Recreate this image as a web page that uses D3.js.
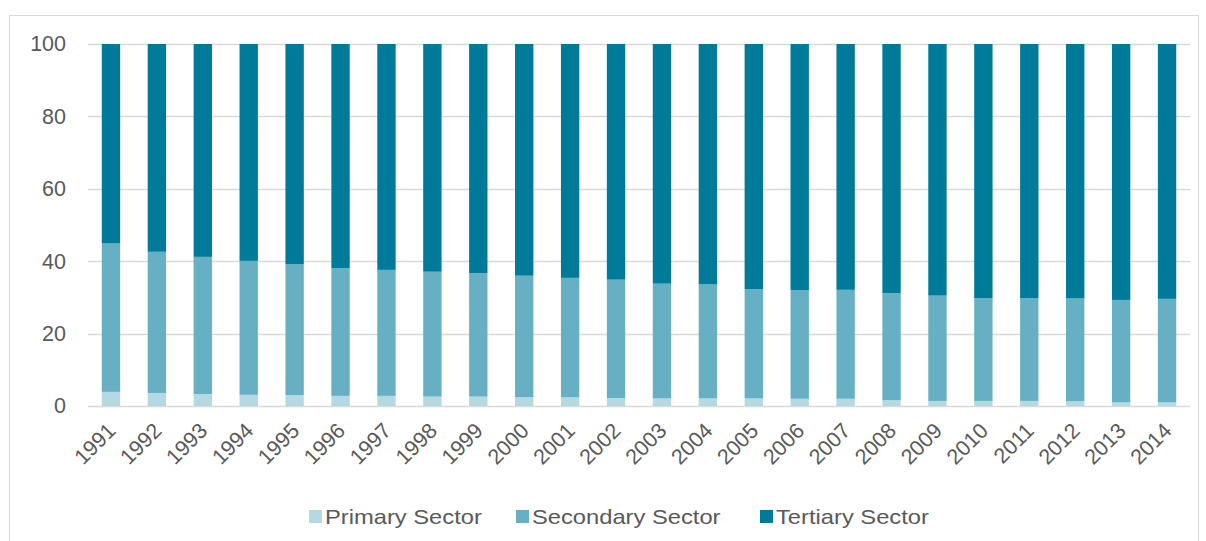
<!DOCTYPE html>
<html>
<head>
<meta charset="utf-8">
<script src="https://cdn.jsdelivr.net/npm/d3@7"></script>
<style>
  body { margin: 0; background: #fff; }
  svg { font-family: "Liberation Sans", Arial, sans-serif; }
</style>
</head>
<body>
<div id="chart"></div>
<script>
const years = d3.range(1991, 2015).map(String);
// share of primary sector (%)
const primary = [3.9, 3.6, 3.3, 3.1, 3.0, 2.8, 2.8, 2.6, 2.6, 2.4, 2.4, 2.2,
  2.1, 2.1, 2.1, 2.0, 2.0, 1.6, 1.4, 1.4, 1.4, 1.3, 1.0, 1.0];
// primary + secondary top edge (%)
const industryTop = [44.9, 42.6, 41.2, 40.1, 39.2, 38.1, 37.6, 37.1, 36.7, 36.0, 35.4, 34.9,
  33.8, 33.6, 32.3, 32.0, 32.1, 31.2, 30.5, 29.8, 29.8, 29.7, 29.3, 29.6];
const secondary = industryTop.map((t, i) => +(t - primary[i]).toFixed(1));
const tertiary = industryTop.map(t => +(100 - t).toFixed(1));
const sectors = ['Primary Sector', 'Secondary Sector', 'Tertiary Sector'];
const colors = ['#b4d9e3', '#67b0c3', '#007a99'];
const yTicks = [0, 20, 40, 60, 80, 100];

const width = 1206, height = 541;
const margin = {top: 44, right: 16, bottom: 135, left: 88};
const textColor = '#595959';

const svg = d3.select('#chart').append('svg')
  .attr('width', width)
  .attr('height', height);

// chart frame
svg.append('rect')
  .attr('x', 9.5).attr('y', 15.5)
  .attr('width', 1189).attr('height', 540)
  .attr('fill', 'none').attr('stroke', '#d9d9d9');

const x = d3.scaleBand()
  .domain(years)
  .range([margin.left, width - margin.right])
  .paddingInner(0.6).paddingOuter(0.3);

const y = d3.scaleLinear()
  .domain([0, 100])
  .range([height - margin.bottom, margin.top]);

// grid
svg.append('g')
  .selectAll('line')
  .data(yTicks)
  .join('line')
    .attr('x1', margin.left).attr('x2', width - margin.right)
    .attr('y1', d => Math.round(y(d)) + 0.5).attr('y2', d => Math.round(y(d)) + 0.5)
    .attr('stroke', '#d9d9d9').attr('stroke-width', 1.3);

const table = years.map((yr, i) => ({year: yr, p: primary[i], s: secondary[i], t: tertiary[i]}));
const stack = d3.stack().keys(['p', 's', 't'])(table);

svg.append('g')
  .selectAll('g')
  .data(stack)
  .join('g')
    .attr('fill', (d, i) => colors[i])
  .selectAll('rect')
  .data(d => d)
  .join('rect')
    .attr('x', d => x(d.data.year))
    .attr('width', x.bandwidth())
    .attr('y', d => y(d[1]))
    .attr('height', d => y(d[0]) - y(d[1]));

// y axis
const yAxis = svg.append('g')
  .attr('transform', `translate(${margin.left - 22},0)`)
  .call(d3.axisLeft(y).tickValues(yTicks).tickSize(0).tickPadding(0));
yAxis.select('.domain').remove();
yAxis.selectAll('text')
  .attr('font-size', 21.5).attr('fill', textColor)
  .attr('font-family', '"Liberation Sans", Arial, sans-serif');

// x axis
const xAxis = svg.append('g')
  .attr('transform', `translate(0,${height - margin.bottom})`)
  .call(d3.axisBottom(x).tickSize(0).tickPadding(0));
xAxis.select('.domain').remove();
xAxis.selectAll('text')
  .attr('font-size', 21.5).attr('fill', textColor)
  .attr('font-family', '"Liberation Sans", Arial, sans-serif')
  .attr('text-anchor', 'end')
  .attr('dy', 0)
  .attr('transform', 'translate(6,26) rotate(-45)');

// legend
const legendX = [309, 516, 760];
const legend = svg.append('g')
  .selectAll('g')
  .data(sectors)
  .join('g')
    .attr('transform', (d, i) => `translate(${legendX[i]},510)`);
legend.append('rect')
  .attr('width', 13).attr('height', 13)
  .attr('fill', (d, i) => colors[i]);
legend.append('text')
  .attr('transform', 'translate(16,13.5) scale(1.13,1)')
  .attr('font-size', 21).attr('fill', textColor)
  .text(d => d);
</script>
</body>
</html>
